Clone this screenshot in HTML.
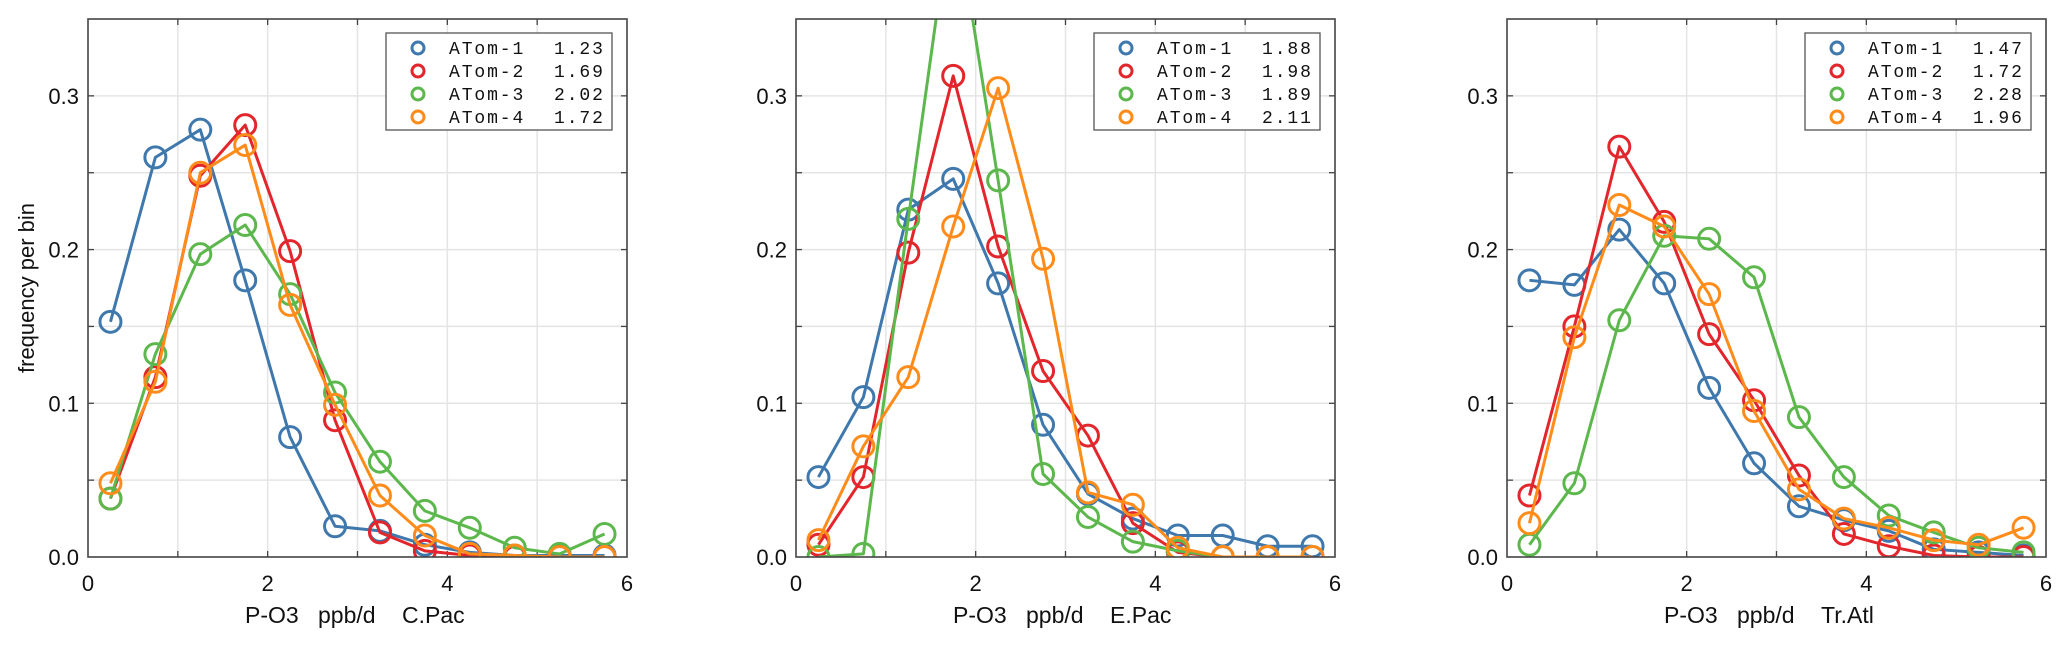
<!DOCTYPE html>
<html><head><meta charset="utf-8"><style>
html,body{margin:0;padding:0;background:#fff;}
svg{display:block;}
text{font-family:"Liberation Sans",sans-serif;fill:#111;}
.leg{font-family:"Liberation Mono",monospace;font-size:18px;letter-spacing:1.9px;}
</style></head><body>
<svg id="chart" width="2067" height="646" viewBox="0 0 2067 646" xmlns="http://www.w3.org/2000/svg"></svg>
<script>
const xBins = [0.25,0.75,1.25,1.75,2.25,2.75,3.25,3.75,4.25,4.75,5.25,5.75];
const seriesNames = ["ATom-1","ATom-2","ATom-3","ATom-4"];
const regionNames = ["C.Pac","E.Pac","Tr.Atl"];
const xTicks = [0,2,4,6];
const yTicks = [0.0,0.1,0.2,0.3];
const yTickLabels = ["0.0","0.1","0.2","0.3"];
// C.Pac
const cpacA1 = [0.153,0.260,0.278,0.180,0.078,0.020,0.017,0.008,0.003,0.001,0.001,0.001];
const cpacA2 = [0.038,0.117,0.248,0.281,0.199,0.089,0.016,0.004,0.001,0.0,0.0,0.0];
const cpacA3 = [0.038,0.132,0.197,0.216,0.171,0.107,0.062,0.030,0.019,0.006,0.002,0.015];
const cpacA4 = [0.048,0.114,0.250,0.268,0.164,0.099,0.040,0.014,0.002,0.001,0.0,0.0];
const cpacMeans = ["1.23","1.69","2.02","1.72"];
// E.Pac
const epacA1 = [0.052,0.104,0.226,0.246,0.178,0.086,0.041,0.025,0.014,0.014,0.007,0.007];
const epacA2 = [0.008,0.052,0.198,0.313,0.202,0.121,0.079,0.022,0.003,0.0,0.0,0.0];
const epacA3 = [0.0,0.002,0.220,0.430,0.245,0.054,0.026,0.010,0.004,0.0,0.0,0.0];
const epacA4 = [0.011,0.072,0.117,0.215,0.305,0.194,0.042,0.034,0.006,0.0,0.0,0.0];
const epacMeans = ["1.88","1.98","1.89","2.11"];
// Tr.Atl
const tatlA1 = [0.180,0.177,0.213,0.178,0.110,0.061,0.033,0.024,0.017,0.005,0.003,0.001];
const tatlA2 = [0.040,0.150,0.267,0.218,0.145,0.102,0.053,0.015,0.007,0.001,0.0,0.0];
const tatlA3 = [0.008,0.048,0.154,0.209,0.207,0.182,0.091,0.052,0.027,0.016,0.006,0.003];
const tatlA4 = [0.022,0.143,0.229,0.215,0.171,0.095,0.044,0.025,0.019,0.011,0.008,0.019];
const tatlMeans = ["1.47","1.72","2.28","1.96"];

const panelData = [[cpacA1,cpacA2,cpacA3,cpacA4],[epacA1,epacA2,epacA3,epacA4],[tatlA1,tatlA2,tatlA3,tatlA4]];
const panelMeans = [cpacMeans,epacMeans,tatlMeans];
const colors = ["#3f78ad","#e3262c","#5cb84c","#ff8c1a"];
const NS = "http://www.w3.org/2000/svg";
const svg = document.getElementById("chart");
function mk(tag, attrs, parent){const e=document.createElementNS(NS,tag);for(const k in attrs)e.setAttribute(k,attrs[k]);(parent||svg).appendChild(e);return e;}

const X0s=[88,796,1507], W=539, TOP=19, BOT=557, XMAX=6, YMAX=0.35;
const defs = mk("defs",{});
for(let p=0;p<3;p++){
  const x0=X0s[p];
  const xs=v=>x0+v/XMAX*W;
  const ys=v=>BOT-v/YMAX*(BOT-TOP);
  const g=mk("g",{});
  
  
  const cp=mk("clipPath",{id:"clip"+p},defs);
  mk("rect",{x:x0,y:TOP,width:W,height:BOT-TOP},cp);
  for(let v=1;v<XMAX;v++){const l=mk("line",{x1:xs(v),x2:xs(v),y1:TOP,y2:BOT,stroke:"#e4e4e4","stroke-width":1.5},g);
    }
  for(let v=0.05;v<YMAX-0.001;v+=0.05){const l=mk("line",{x1:x0,x2:x0+W,y1:ys(v),y2:ys(v),stroke:"#e4e4e4","stroke-width":1.5},g);
    }
  for(let v=1;v<XMAX;v++){mk("line",{x1:xs(v),x2:xs(v),y1:BOT,y2:BOT-6,stroke:"#444","stroke-width":1.3},g);mk("line",{x1:xs(v),x2:xs(v),y1:TOP,y2:TOP+6,stroke:"#444","stroke-width":1.3},g);}
  for(let v=0.05;v<YMAX-0.001;v+=0.05){mk("line",{x1:x0,x2:x0+6,y1:ys(v),y2:ys(v),stroke:"#444","stroke-width":1.3},g);mk("line",{x1:x0+W,x2:x0+W-6,y1:ys(v),y2:ys(v),stroke:"#444","stroke-width":1.3},g);}
  xTicks.forEach(v=>{const t=mk("text",{x:xs(v),y:591,"text-anchor":"middle","font-size":22},g);t.textContent=String(v);
    });
  yTicks.forEach((v,i)=>{const t=mk("text",{x:x0-9,y:ys(v)+8,"text-anchor":"end","font-size":22},g);t.textContent=yTickLabels[i];
    });
  const xl=mk("text",{x:x0+157,y:623,"font-size":23},g);
  
  const ts1=mk("tspan",{},xl);ts1.textContent="P-O3 ";
  const ts2=mk("tspan",{x:x0+230},xl);ts2.textContent="ppb/d ";
  const ts3=mk("tspan",{x:x0+314},xl);ts3.textContent=regionNames[p];
  const sg=mk("g",{"clip-path":"url(#clip"+p+")"},g);
  panelData[p].forEach((arr,si)=>{
    const pts=arr.map((v,i)=>xs(xBins[i])+","+ys(v)).join(" ");
    const pl=mk("polyline",{points:pts,fill:"none",stroke:colors[si],"stroke-width":3,"stroke-linejoin":"round"},sg);
    
    
    arr.forEach((v,i)=>{const c=mk("circle",{cx:xs(xBins[i]),cy:ys(v),r:10.5,fill:"none",stroke:colors[si],"stroke-width":3},sg);
      
      });
  });
  const fr=mk("rect",{x:x0,y:TOP,width:W,height:BOT-TOP,fill:"none",stroke:"#444","stroke-width":1.6},g);
  
  const lx=x0+W-15-226, ly=33;
  const lg=mk("g",{},g);
  
  mk("rect",{x:lx,y:ly,width:226,height:97,fill:"#fff",stroke:"#555","stroke-width":1.3},lg);
  seriesNames.forEach((n,si)=>{
    const yy=ly+15+si*23;
    const c=mk("circle",{cx:lx+32,cy:yy,r:6,fill:"none",stroke:colors[si],"stroke-width":3},lg);
    
    const t=mk("text",{x:lx+63,y:yy+6,"class":"leg"},lg);t.textContent=n;
    
    const t2=mk("text",{x:lx+168,y:yy+6,"class":"leg"},lg);t2.textContent=panelMeans[p][si];
    
  });
}
const yl=mk("text",{x:0,y:0,"text-anchor":"middle","font-size":22,transform:"translate(34,288) rotate(-90)"});
yl.textContent="frequency per bin";


</script>
</body></html>
